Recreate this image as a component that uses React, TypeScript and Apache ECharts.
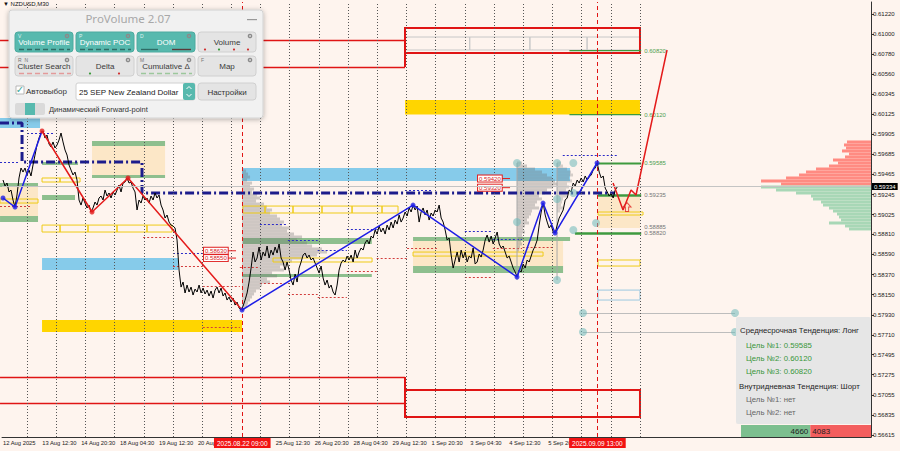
import React, { useEffect, useRef } from "react";
import * as echarts from "echarts";

// x axis: M30 bar index (trading bars), bar 0 = 12 Aug 2025 00:00
const X_MIN = 6.9;
const X_MAX = 1435.9;
const Y_MIN = 0.56593;
const Y_MAX = 0.61351;
const BID = 0.59334;

const PRICE_TICKS = [0.56615, 0.56835, 0.57055, 0.57275, 0.57495, 0.5771, 0.5793, 0.5815, 0.5837, 0.5859, 0.5881, 0.59025, 0.59245, 0.59465, 0.59685, 0.59905, 0.60125, 0.60345, 0.6056, 0.6078, 0.61, 0.6122];
const TIME_LABEL_BARS = [8.5, 73, 137, 201, 265, 329, 457, 521, 585, 649, 713, 777, 841, 905];
const TIME_LABELS = ["12 Aug 2025", "13 Aug 12:30", "14 Aug 20:30", "18 Aug 04:30", "19 Aug 12:30", "20 Aug 20:30", "25 Aug 12:30", "26 Aug 20:30", "28 Aug 04:30", "29 Aug 12:30", "1 Sep 20:30", "3 Sep 04:30", "4 Sep 12:30", "5 Sep 20:30"];
const DAY_BREAK_BARS = [48, 96, 144, 192, 240, 288, 336, 384, 432, 480, 528, 576, 624, 672, 720, 768, 816, 864, 912, 960, 1008, 1056];
const EVENT_BARS = [402, 986];
const EVENT_LABELS = ["2025.08.22 09:00", "2025.09.09 13:00"];

// close prices in points (1e-5), sampled every PRICE_STEP_BARS bars
const PRICE_START_BAR = 8.5;
const PRICE_STEP_BARS = 3.29;
const PRICE_POINTS = [
  59404, 59338, 59371, 59273, 59294, 59185, 59108, 59240, 59426, 59535, 59491, 59535, 59459, 59513, 59448, 59568, 59677, 59787, 59863, 59918,
  59940, 59863, 59896, 59798, 59765, 59820, 59754, 59787, 59841, 59918, 59820, 59732, 59677, 59568, 59513, 59459, 59491, 59404, 59185, 59130,
  59207, 59152, 59098, 59130, 59054, 59098, 59163, 59130, 59207, 59229, 59185, 59294, 59229, 59262, 59207, 59273, 59240, 59294, 59349, 59273,
  59371, 59382, 59426, 59371, 59382, 59316, 59273, 59076, 59185, 59152, 59229, 59185, 59207, 59152, 59229, 59185, 59262, 59207, 59240, 59130,
  59076, 58988, 59021, 58944, 58911, 58901, 58879, 58747, 58419, 58233, 58288, 58168, 58255, 58179, 58233, 58146, 58211, 58179, 58255, 58168,
  58222, 58157, 58200, 58135, 58190, 58113, 58200, 58233, 58168, 58222, 58135, 58168, 58091, 58124, 58069, 58113, 58036, 58069, 58004, 57982,
  58025, 58091, 58168, 58288, 58441, 58616, 58507, 58551, 58671, 58529, 58616, 58572, 58682, 58551, 58638, 58583, 58671, 58605, 58704, 58551,
  58507, 58419, 58507, 58419, 58310, 58255, 58375, 58288, 58441, 58507, 58583, 58605, 58551, 58583, 58529, 58551, 58496, 58441, 58386, 58463,
  58332, 58255, 58310, 58222, 58255, 58179, 58146, 58255, 58419, 58496, 58529, 58507, 58572, 58529, 58583, 58507, 58638, 58551, 58616, 58660,
  58638, 58715, 58747, 58704, 58791, 58769, 58857, 58813, 58901, 58835, 58879, 58813, 58911, 58857, 58944, 58879, 58966, 58922, 59021, 58944,
  58988, 59054, 59010, 59098, 59054, 59130, 59076, 59119, 58944, 59054, 59098, 59021, 59076, 58966, 59043, 59010, 59076, 59054, 59130, 58988,
  58944, 58857, 58747, 58769, 58583, 58441, 58529, 58616, 58507, 58638, 58551, 58616, 58507, 58572, 58551, 58660, 58485, 58507, 58594, 58561,
  58638, 58747, 58802, 58725, 58791, 58704, 58769, 58835, 58704, 58660, 58682, 58616, 58551, 58572, 58507, 58441, 58397, 58343, 58419, 58397,
  58485, 58441, 58529, 58507, 58572, 58638, 58682, 58747, 58911, 59054, 59152, 59021, 58944, 58879, 58911, 58835, 58824, 58911, 58988, 59032,
  59076, 59185, 59207, 59294, 59273, 59371, 59338, 59404, 59371, 59426, 59382, 59448, 59404, 59437, 59459, 59513, 59535, 59590, 59491, 59426,
  59448, 59316, 59273, 59229, 59251, 59207, 59294, 59327,
];

// zigzag vertices
const ZZ_BARS = [8.5, 28.3, 72.7, 154.9, 214.1, 401.6, 682.8, 853.8, 896.6, 916.3, 985.4];
const ZZ_PRICES = [0.59207, 0.59108, 0.5994, 0.59054, 0.59426, 0.57982, 0.5913, 0.58343, 0.59152, 0.58824, 0.5959];
const ZZ_SEGMENT_COLORS = ["blue", "blue", "red", "red", "red", "blue", "blue", "blue", "blue", "blue"];
const FC_BARS = [1011.7, 1028.1, 1041.3, 1049.5, 1100.5];
const FC_PRICES = [0.59371, 0.59076, 0.59294, 0.5924, 0.60826];

// zones: [fromBar, toBar, lowPrice, highPrice]
const BLUE_ZONES = [[3.6, 69.4, 0.59973, 0.60082], [401.6, 941, 0.59393, 0.59535], [72.7, 296.3, 0.58419, 0.58551]];
const YELLOW_ZONES = [[72.7, 401.6, 0.57741, 0.57872], [669.6, 1056, 0.6012, 0.60279]];
const BEIGE_ZONES = [[154.9, 275, 0.59459, 0.59776], [3.6, 66.1, 0.5901, 0.59327], [682.8, 929.5, 0.58463, 0.58737], [987, 1056, 0.58879, 0.59218]];
const GREEN_ZONES = [
  [154.9, 275, 0.59776, 0.5983], [154.9, 275, 0.59426, 0.59459], [72.7, 131.9, 0.59568, 0.59601], [72.7, 126.9, 0.59185, 0.5924],
  [3.6, 66.1, 0.59327, 0.59371], [3.6, 66.1, 0.58944, 0.5901], [403, 615, 0.58704, 0.58769], [401.6, 615, 0.58343, 0.58375],
  [682.8, 941, 0.58737, 0.5878], [682.8, 929.5, 0.58386, 0.58463],
];
const YELLOW_BOXES = [
  [72.7, 102.3, 0.59382, 0.59426], [102.3, 135.2, 0.59382, 0.59426], [3.6, 66.1, 0.59152, 0.59196],
  [72.7, 102.3, 0.58835, 0.58911], [102.3, 148.3, 0.58835, 0.58911], [148.3, 196, 0.58835, 0.58911], [196, 245.3, 0.58835, 0.58911], [245.3, 286.5, 0.58835, 0.58911],
  [403, 439.4, 0.59043, 0.59119], [439.4, 485.4, 0.59043, 0.59119], [485.4, 533.1, 0.59043, 0.59119], [533.1, 582.5, 0.59043, 0.59119], [582.5, 631.8, 0.59043, 0.59119], [631.8, 658.1, 0.59043, 0.59119],
  [452.5, 615.4, 0.58507, 0.58551], [682.8, 896.6, 0.58572, 0.58616], [987, 1061, 0.59021, 0.59054], [987, 1056, 0.58463, 0.58529],
];
const GRAY_BOXES = [[669.6, 776, 0.60826, 0.60968], [776, 875, 0.60826, 0.60968], [875, 969, 0.60826, 0.60968], [969, 1056, 0.60826, 0.60968]];
const BLUE_OUTLINE_BOXES = [[987, 1056, 0.58091, 0.582]];
const RED_LEVEL_LINES = [[3.6, 669.6, 0.60935], [3.6, 669.6, 0.6064], [3.6, 669.6, 0.57249], [3.6, 669.6, 0.56964]];
const RED_BOXES = [[669.6, 1056, 0.60793, 0.61067], [669.6, 1056, 0.56811, 0.57107]];
const RED_CONNECTORS = [[669.6, 0.6064, 0.61067], [669.6, 0.56811, 0.57249]];
const BLUE_DASH_LEVELS = [[48, 94, 0.59918], [669.6, 715.7, 0.59294], [477, 526, 0.58747], [526, 574, 0.58638], [431, 477, 0.58922], [574, 623, 0.58868], [768, 814, 0.58846], [814, 862, 0.58758], [288, 337, 0.58605], [929, 1019, 0.59677], [3.6, 36.5, 0.59601]];
const RED_DASH_LEVELS = [[3.6, 53, 0.59119], [239, 288, 0.5878], [288, 337, 0.58463], [337, 398, 0.58244], [337, 398, 0.57796], [398, 431, 0.58452], [431, 480, 0.58277], [477, 526, 0.58157], [526, 574, 0.58124], [574, 623, 0.58408], [623, 673, 0.58551], [673, 722, 0.5866], [768, 814, 0.58343], [814, 862, 0.5866], [863, 913, 0.58671]];
const POC_BARS = [3.6, 39.8, 39.8, 237.1, 237.1, 1015];
const POC_PRICES = [0.60027, 0.60027, 0.59601, 0.59601, 0.59262, 0.59262];

const TARGET_LINES = [[940, 1058, 0.6082, 1.2], [940, 1058, 0.6012, 1.2], [987, 1058, 0.59585, 2], [987, 1058, 0.59235, 2.5], [949, 1058, 0.5882, 2.5]];
const TARGET_LABEL_PRICES = [0.6082, 0.6012, 0.59585, 0.59235, 0.58885, 0.5882];
const TARGET_LABEL_COLORS = ["#4E9E4E", "#4E9E4E", "#4E9E4E", "#777777", "#777777", "#777777"];
const TARGET_LABEL_BAR = 1063;

const PRICE_TAG_BARS = [339.1, 339.1, 789.7, 789.7];
const PRICE_TAG_PRICES = [0.5863, 0.5855, 0.5942, 0.5932];

const TEAL_DOTS = [[853.8, 0.5959], [919.6, 0.5959], [919.6, 0.59196], [853.8, 0.58944], [919.6, 0.5831], [946.4, 0.5959], [946.4, 0.59262], [983.7, 0.58933], [946.4, 0.58857], [962.3, 0.57949], [1212.3, 0.57949], [962.3, 0.57741], [1212.3, 0.57741]];
const GRAY_HLINES = [[962.3, 1212.3, 0.57949], [962.3, 1212.3, 0.57741]];
const GRAY_VLINES = [[853.8, 0.5831, 0.5959], [919.6, 0.5831, 0.5959]];
const ARROW_MARK = [[1034.7, 0.59108]];

// volume profiles (lots per 0.000328 price bin)
const PROFILE_STEP = 0.000328;
const LOT_BARS = 0.548;
const PROFILE_A_BAR = 401.6;
const PROFILE_A_TOP = 0.59502;
const PROFILE_A_VOLUMES = [12, 18, 24, 15, 30, 24, 36, 30, 45, 54, 42, 66, 75, 90, 84, 105, 114, 126, 120, 144, 135, 156, 180, 165, 195, 210, 240, 255, 225, 180, 150, 135, 114, 126, 90, 105, 75, 84, 60, 54, 42, 36, 30, 24, 18, 15];
const PROFILE_B_BAR = 853.8;
const PROFILE_B_TOP = 0.5959;
const PROFILE_B_VOLUMES = [15, 30, 54, 75, 90, 105, 114, 120, 108, 90, 84, 66, 75, 60, 54, 66, 45, 42, 36, 30, 36, 24, 18, 24, 15, 18, 12, 15, 9, 6];
const PROFILE_C_BAR = 919.6;
const PROFILE_C_TOP = 0.5959;
const PROFILE_C_VOLUMES = [12, 18, 30, 42, 48, 36, 45, 30, 36, 27, 24, 30, 18, 15, 12, 18, 9];
const PROFILE_R_TOP = 0.5982;
const PROFILE_R_VOLUMES = [72, 81, 75, 87, 66, 78, 114, 99, 126, 165, 195, 216, 255, 330, 270, 330, 285, 225, 180, 174, 150, 144, 126, 114, 102, 96, 90, 126, 78, 66];
const TOTALS = [4660, 4083];
const TOTAL_COLORS = ["#7CBF8F", "#F35E5E"];
const TOTAL_BARS_PER_LOT = 0.02445;
const TOTAL_TOP = 0.56724;

// texts
const CHART_TITLE = "NZDUSD,M30";
const PANEL_TITLE = "ProVolume 2.07";
const BUTTON_LABELS = ["Volume Profile", "Dynamic POC", "DOM", "Volume", "Cluster Search", "Delta", "Cumulative Δ", "Map"];
const BUTTON_ACTIVE = [true, true, true, false, false, false, false, false];
const BUTTON_KEYS = ["V", "P", "D", "", "R  N", "", "M", "F"];
const AUTO_TEXT = "Автовыбор";
const SYMBOL_TEXT = "25 SEP New Zealand Dollar";
const SETTINGS_TEXT = "Настройки";
const FORWARD_TEXT = "Динамический Forward-point";
const TREND_MID = "Среднесрочная Тенденция: Лонг";
const TREND_INTRADAY = "Внутридневная Тенденция: Шорт";
const MID_TARGETS = ["0.59585", "0.60120", "0.60820"];
const INTRADAY_TARGETS = ["нет", "нет"];

const AXIS_FONT = "'Liberation Sans', Arial, sans-serif";
const UI_FONT = "'Liberation Sans', Arial, sans-serif";

const rectItem = (fill: any, stroke: any = null, lw = 1) => (params: any, api: any) => {
  const a = api.coord([api.value(0), api.value(3)]);
  const b = api.coord([api.value(1), api.value(2)]);
  return { type: "rect", shape: { x: a[0], y: a[1], width: b[0] - a[0], height: b[1] - a[1] }, style: { fill, stroke, lineWidth: lw } };
};
const hLineItem = (stroke: string, lw: number, dash: any) => (params: any, api: any) => {
  const a = api.coord([api.value(0), api.value(2)]);
  const b = api.coord([api.value(1), api.value(2)]);
  const y = Math.round(a[1]) + 0.5;
  return { type: "line", shape: { x1: a[0], y1: y, x2: b[0], y2: y }, style: { stroke, lineWidth: lw, lineDash: dash } };
};
const vLineItem = (stroke: string, lw: number) => (params: any, api: any) => {
  const a = api.coord([api.value(0), api.value(1)]);
  const b = api.coord([api.value(0), api.value(2)]);
  return { type: "line", shape: { x1: a[0], y1: a[1], x2: b[0], y2: b[1] }, style: { stroke, lineWidth: lw } };
};
const profileItem = (base: number, dir: number, colorFn: (p: number) => string) => (params: any, api: any) => {
  const p = api.value(0);
  const v = api.value(1);
  const a = api.coord([base, p + PROFILE_STEP / 2]);
  const b = api.coord([base + dir * v * LOT_BARS, p - PROFILE_STEP / 2]);
  return { type: "rect", shape: { x: Math.min(a[0], b[0]), y: a[1], width: Math.abs(b[0] - a[0]), height: b[1] - a[1] }, style: { fill: colorFn(p) } };
};
const profileData = (top: number, vols: number[]) => vols.map((v, i) => [top - i * PROFILE_STEP, v]);

function custom(name: string, data: any[], renderItem: any, z = 2) {
  return { type: "custom", name, data, renderItem, z, silent: true };
}

function buildPanel(): any[] {
  const Z = 100;
  const els: any[] = [];
  els.push({ type: "text", z: Z, x: 3, y: 1, style: { text: "▼ " + CHART_TITLE, fill: "#111", font: `6px ${AXIS_FONT}` } });
  els.push({ type: "rect", z: Z, shape: { x: 9, y: 10, width: 254, height: 108, r: 3 }, style: { fill: "#F1F1F1", stroke: "#D2D2D2", lineWidth: 1, shadowBlur: 5, shadowColor: "rgba(0,0,0,0.3)", shadowOffsetY: 1 } });
  els.push({ type: "text", z: Z + 1, x: 128, y: 18, style: { text: PANEL_TITLE, fill: "#A8A8A8", font: "11.5px 'Noto Sans', sans-serif", align: "center", verticalAlign: "middle" } });
  els.push({ type: "rect", z: Z + 1, shape: { x: 247, y: 19, width: 10, height: 1.2 }, style: { fill: "#999" } });
  const xs = [15, 76, 137, 198];
  BUTTON_LABELS.forEach((label, i) => {
    const x = xs[i % 4];
    const y = i < 4 ? 32 : 56;
    const w = 58;
    const h = 20;
    const active = BUTTON_ACTIVE[i];
    els.push({ type: "rect", z: Z + 1, shape: { x, y, width: w, height: h, r: 3 }, style: { fill: active ? "#57B9AE" : "#E4E4E4", stroke: active ? "#4CAA9F" : "#D0D0D0", lineWidth: 1 } });
    els.push({ type: "text", z: Z + 2, x: x + w / 2, y: y + h / 2 + 0.5, style: { text: label, fill: active ? "#FFFFFF" : "#3A3A3A", font: `8px ${UI_FONT}`, align: "center", verticalAlign: "middle" } });
    els.push({ type: "circle", z: Z + 2, shape: { cx: x + w - 6, cy: y + 4, r: 2.3 }, style: { fill: "#8A8A8A" } });
    els.push({ type: "circle", z: Z + 3, shape: { cx: x + w - 6, cy: y + 4, r: 0.8 }, style: { fill: active ? "#57B9AE" : "#E4E4E4" } });
    if (BUTTON_KEYS[i]) {
      els.push({ type: "text", z: Z + 2, x: x + 3, y: y + 1, style: { text: BUTTON_KEYS[i], fill: active ? "#DFF3F0" : "#777", font: `5px ${UI_FONT}` } });
    }
  });
  const dash = (x1: number, x2: number, y: number, c: string, d: any = [5, 3], lw = 1.4) =>
    els.push({ type: "line", z: Z + 2, shape: { x1, y1: y, x2, y2: y }, style: { stroke: c, lineWidth: lw, lineDash: d } });
  dash(19, 70, 49.5, "#2F6C66");
  dash(80, 131, 49.5, "#2F6C66");
  dash(141, 158, 49.5, "#2F6C66", null);
  dash(172, 191, 49.5, "#5A3A3A", null);
  [205, 219, 234, 248].forEach((cx, k) => els.push({ type: "circle", z: Z + 2, shape: { cx, cy: 49.5, r: 1.1 }, style: { fill: k === 1 ? "#3A9A3A" : "#D03030" } }));
  dash(19, 71, 73.5, "#E39A9A");
  els.push({ type: "circle", z: Z + 2, shape: { cx: 90, cy: 73.5, r: 1.1 }, style: { fill: "#3A9A3A" } });
  els.push({ type: "circle", z: Z + 2, shape: { cx: 119, cy: 73.5, r: 1.1 }, style: { fill: "#D03030" } });
  dash(141, 192, 73.5, "#9CC79C");
  els.push({ type: "rect", z: Z + 1, shape: { x: 16, y: 86, width: 8, height: 8 }, style: { fill: "#FFFFFF", stroke: "#AAAAAA", lineWidth: 0.8 } });
  els.push({ type: "text", z: Z + 2, x: 20, y: 89, style: { text: "✓", fill: "#3AA89C", font: `10px 'DejaVu Sans', sans-serif`, align: "center", verticalAlign: "middle" } });
  els.push({ type: "text", z: Z + 2, x: 26, y: 91, style: { text: AUTO_TEXT, fill: "#333", font: `8px ${UI_FONT}`, verticalAlign: "middle" } });
  els.push({ type: "rect", z: Z + 1, shape: { x: 76, y: 83, width: 119, height: 17, r: 2 }, style: { fill: "#FFFFFF", stroke: "#D0D0D0", lineWidth: 1 } });
  els.push({ type: "text", z: Z + 2, x: 79, y: 92, style: { text: SYMBOL_TEXT, fill: "#222", font: `8px ${UI_FONT}`, verticalAlign: "middle" } });
  els.push({ type: "rect", z: Z + 2, shape: { x: 183, y: 83, width: 12, height: 17, r: 2 }, style: { fill: "#57B9AE" } });
  els.push({ type: "polyline", z: Z + 3, shape: { points: [[186.5, 89], [189, 86.5], [191.5, 89]] }, style: { stroke: "#fff", lineWidth: 1, fill: null } });
  els.push({ type: "polyline", z: Z + 3, shape: { points: [[186.5, 94], [189, 96.5], [191.5, 94]] }, style: { stroke: "#fff", lineWidth: 1, fill: null } });
  els.push({ type: "rect", z: Z + 1, shape: { x: 198, y: 83, width: 58, height: 17, r: 3 }, style: { fill: "#E4E4E4", stroke: "#D0D0D0", lineWidth: 1 } });
  els.push({ type: "text", z: Z + 2, x: 227, y: 92, style: { text: SETTINGS_TEXT, fill: "#333", font: `8px ${UI_FONT}`, align: "center", verticalAlign: "middle" } });
  els.push({ type: "rect", z: Z + 1, shape: { x: 15, y: 103, width: 30, height: 12, r: 2 }, style: { fill: "#DADADA" } });
  els.push({ type: "rect", z: Z + 2, shape: { x: 25, y: 103, width: 10, height: 12 }, style: { fill: "#57B9AE" } });
  els.push({ type: "text", z: Z + 2, x: 49, y: 109.5, style: { text: FORWARD_TEXT, fill: "#333", font: `7.5px ${UI_FONT}`, verticalAlign: "middle" } });

  els.push({ type: "rect", z: Z, shape: { x: 736, y: 317, width: 135, height: 107, r: 2 }, style: { fill: "rgba(229,229,229,0.96)" } });
  const lines: [string, number, number, string][] = [
    [TREND_MID, 740, 330, "#1E1E1E"],
    [`Цель №1: ${MID_TARGETS[0]}`, 746, 345, "#3A963A"],
    [`Цель №2: ${MID_TARGETS[1]}`, 746, 358, "#3A963A"],
    [`Цель №3: ${MID_TARGETS[2]}`, 746, 371, "#3A963A"],
    [TREND_INTRADAY, 739, 386, "#1E1E1E"],
    [`Цель №1: ${INTRADAY_TARGETS[0]}`, 746, 399, "#666666"],
    [`Цель №2: ${INTRADAY_TARGETS[1]}`, 746, 412, "#666666"],
  ];
  lines.forEach(([t, x, y, c]) => els.push({ type: "text", z: Z + 1, x, y, style: { text: t, fill: c, font: `7.8px ${UI_FONT}`, verticalAlign: "middle" } }));
  return els;
}

function buildZigzag(): any[] {
  const out: any[] = [];
  let run: any[] = [[ZZ_BARS[0], ZZ_PRICES[0]]];
  let color = ZZ_SEGMENT_COLORS[0];
  const flush = () => out.push({ type: "line", data: run, showSymbol: false, z: 6, silent: true, lineStyle: { color: color === "blue" ? "#1E1EE6" : "#E41B1B", width: 1.5 } });
  for (let i = 0; i < ZZ_SEGMENT_COLORS.length; i++) {
    if (ZZ_SEGMENT_COLORS[i] !== color) {
      flush();
      run = [[ZZ_BARS[i], ZZ_PRICES[i]]];
      color = ZZ_SEGMENT_COLORS[i];
    }
    run.push([ZZ_BARS[i + 1], ZZ_PRICES[i + 1]]);
  }
  flush();
  out.push({
    type: "scatter", z: 7, silent: true, symbolSize: 5,
    data: ZZ_BARS.map((b, i) => {
      const c = ZZ_SEGMENT_COLORS[Math.min(i, ZZ_SEGMENT_COLORS.length - 1)];
      return { value: [b, ZZ_PRICES[i]], itemStyle: { color: c === "blue" ? "#1E1EE6" : "#E41B1B" } };
    }),
  });
  return out;
}

export default function App() {
  const ref = useRef<HTMLDivElement>(null);
  useEffect(() => {
    if (!ref.current) return;
    const chart = echarts.init(ref.current, null, { renderer: "svg" });
    const priceData = PRICE_POINTS.map((p, i) => [PRICE_START_BAR + i * PRICE_STEP_BARS, p / 1e5]);
    const nearestLabel = (v: number) => {
      let best = 0;
      TIME_LABEL_BARS.forEach((b, i) => { if (Math.abs(b - v) < Math.abs(TIME_LABEL_BARS[best] - v)) best = i; });
      return TIME_LABELS[best];
    };

    const series: any[] = [
      custom("beige", BEIGE_ZONES, rectItem("rgba(251,228,192,0.85)"), 1),
      custom("blueZones", BLUE_ZONES, rectItem("#86CBEA"), 1),
      custom("yellowZones", YELLOW_ZONES, rectItem("#FFD500"), 1),
      custom("greenZones", GREEN_ZONES, rectItem("#8EBF8E"), 1),
      custom("profileA", profileData(PROFILE_A_TOP, PROFILE_A_VOLUMES), profileItem(PROFILE_A_BAR, 1, () => "rgba(110,110,110,0.33)"), 2),
      custom("profileB", profileData(PROFILE_B_TOP, PROFILE_B_VOLUMES), profileItem(PROFILE_B_BAR, 1, () => "rgba(110,110,110,0.33)"), 2),
      custom("profileC", profileData(PROFILE_C_TOP, PROFILE_C_VOLUMES), profileItem(PROFILE_C_BAR, 1, () => "rgba(110,110,110,0.28)"), 2),
      custom("profileR", profileData(PROFILE_R_TOP, PROFILE_R_VOLUMES), profileItem(X_MAX, -1, (p) => (p > BID ? "#FF8B82" : "#A8D7B6")), 2),
      custom("grayBoxes", GRAY_BOXES, rectItem("none", "#C8C8C8", 1), 3),
      custom("yellowBoxes", YELLOW_BOXES, rectItem("none", "#EFCB16", 1), 3),
      custom("blueBoxes", BLUE_OUTLINE_BOXES, rectItem("none", "#9CC8E0", 1), 3),
      custom("redLevels", RED_LEVEL_LINES, hLineItem("#E01414", 1.5, null), 3),
      custom("redBoxes", RED_BOXES, rectItem("none", "#E01414", 2), 3),
      custom("redConn", RED_CONNECTORS, vLineItem("#E01414", 2), 3),
      custom("blueDash", BLUE_DASH_LEVELS, hLineItem("#2B2BC8", 1, [2, 2]), 3),
      custom("redDash", RED_DASH_LEVELS, hLineItem("#D23C3C", 1, [2, 2]), 3),
      custom("grayH", GRAY_HLINES, hLineItem("#BDBDBD", 1, null), 3),
      custom("grayV", GRAY_VLINES, vLineItem("#A8A8A8", 1), 3),
      custom("bid", [[X_MIN, X_MAX, BID]], (params: any, api: any) => {
        const a = api.coord([api.value(0), api.value(2)]);
        const b = api.coord([api.value(1), api.value(2)]);
        const y = Math.round(a[1]) + 0.5;
        return {
          type: "group",
          children: [
            { type: "line", shape: { x1: a[0], y1: y, x2: b[0], y2: y }, style: { stroke: "#C4C4C4", lineWidth: 1 } },
            { type: "text", x: b[0] + 1, y, style: { text: BID.toFixed(5), fill: "#FFFFFF", backgroundColor: "#000000", padding: [1, 2, 0, 2], font: `6px ${AXIS_FONT}`, verticalAlign: "middle" } },
          ],
        };
      }, 8),
      {
        type: "line", name: "poc", z: 4, silent: true, showSymbol: false,
        data: POC_BARS.map((b, i) => [b, POC_PRICES[i]]),
        lineStyle: { color: "#1C1C8C", width: 3, type: [9, 3, 2, 3] },
      },
      custom("targets", TARGET_LINES, (params: any, api: any) => {
        const a = api.coord([api.value(0), api.value(2)]);
        const b = api.coord([api.value(1), api.value(2)]);
        return { type: "line", shape: { x1: a[0], y1: a[1], x2: b[0], y2: b[1] }, style: { stroke: "#3E9A3E", lineWidth: api.value(3) } };
      }, 4),
      custom("targetLabels", TARGET_LABEL_PRICES.map((p) => [TARGET_LABEL_BAR, p]), (params: any, api: any) => {
        const a = api.coord([api.value(0), api.value(1)]);
        return { type: "text", x: a[0], y: a[1], style: { text: TARGET_LABEL_PRICES[params.dataIndex].toFixed(5), fill: TARGET_LABEL_COLORS[params.dataIndex], font: `6px ${AXIS_FONT}`, verticalAlign: "middle" } };
      }, 4),
      {
        type: "line", name: "price", z: 5, silent: true, showSymbol: false, data: priceData,
        lineStyle: { color: "#000000", width: 1 },
        markLine: {
          silent: true, symbol: ["none", "none"], animation: false,
          data: [
            ...DAY_BREAK_BARS.map((b) => ({ xAxis: b, lineStyle: { color: "#555", type: [1, 2], width: 1 }, label: { show: false } })),
            ...EVENT_BARS.map((b, i) => ({
              xAxis: b, lineStyle: { color: "#E01414", type: [4, 3], width: 1 },
              label: { show: true, position: "start", formatter: EVENT_LABELS[i], backgroundColor: "#F21212", color: "#FFFFFF", fontSize: 6.5, fontFamily: AXIS_FONT, padding: [2, 3, 1, 3], distance: 1 },
            })),
          ],
        },
      },
      ...buildZigzag(),
      {
        type: "line", name: "forecast", z: 6, silent: true, showSymbol: false,
        data: FC_BARS.map((b, i) => [b, FC_PRICES[i]]),
        lineStyle: { color: "#E41B1B", width: 1.5 },
      },
      {
        type: "scatter", name: "teal", z: 6, silent: true, symbolSize: 8, data: TEAL_DOTS,
        itemStyle: { color: "rgba(110,185,185,0.7)" },
      },
      {
        type: "scatter", name: "arrow", z: 6, silent: true, data: ARROW_MARK,
        symbol: "path://M5 0 L10 5 L7 5 L7 10 L3 10 L3 5 L0 5 Z", symbolSize: [8, 9],
        itemStyle: { color: "rgba(0,0,0,0)", borderColor: "#E02020", borderWidth: 1 },
      },
      custom("tags", PRICE_TAG_BARS.map((b, i) => [b, PRICE_TAG_PRICES[i]]), (params: any, api: any) => {
        const a = api.coord([api.value(0), api.value(1)]);
        return {
          type: "group",
          children: [
            { type: "line", shape: { x1: a[0] + 24, y1: a[1], x2: a[0] + 32, y2: a[1] }, style: { stroke: "#E02020", lineWidth: 1 } },
            { type: "text", x: a[0], y: a[1], style: { text: PRICE_TAG_PRICES[params.dataIndex].toFixed(5), fill: "#D81818", font: `6px ${AXIS_FONT}`, verticalAlign: "middle", backgroundColor: "#FFFFFF", borderColor: "#E02020", borderWidth: 1, padding: [0, 1] } },
          ],
        };
      }, 7),
      custom("totals", TOTALS.map((t) => [t]), (params: any, api: any) => {
        const i = params.dataIndex;
        const sell = TOTALS[1] * TOTAL_BARS_PER_LOT;
        const all = (TOTALS[0] + TOTALS[1]) * TOTAL_BARS_PER_LOT;
        const x0b = i === 0 ? X_MAX - all : X_MAX - sell;
        const x1b = i === 0 ? X_MAX - sell : X_MAX;
        const a = api.coord([x0b, TOTAL_TOP]);
        const b = api.coord([x1b, Y_MIN]);
        return {
          type: "group",
          children: [
            { type: "rect", shape: { x: a[0], y: a[1], width: b[0] - a[0], height: b[1] - a[1] }, style: { fill: TOTAL_COLORS[i] } },
            { type: "text", x: i === 0 ? b[0] - 2 : a[0] + 2, y: (a[1] + b[1]) / 2, style: { text: String(TOTALS[i]), fill: "#222", font: `8px ${UI_FONT}`, align: i === 0 ? "right" : "left", verticalAlign: "middle" } },
          ],
        };
      }, 7),
    ];

    chart.setOption({
      animation: false,
      backgroundColor: "#FEF4EE",
      grid: { left: 2, right: 29, top: 2, bottom: 14, containLabel: false },
      xAxis: {
        type: "value", min: X_MIN, max: X_MAX,
        axisLine: { show: true, onZero: false, lineStyle: { color: "#333", width: 1 } },
        axisTick: { show: false },
        axisLabel: { customValues: TIME_LABEL_BARS, formatter: (v: number) => nearestLabel(v), align: "left", fontSize: 5.8, color: "#222", margin: 3, fontFamily: AXIS_FONT, hideOverlap: false },
        splitLine: { show: false },
      },
      yAxis: {
        type: "value", position: "right", min: Y_MIN, max: Y_MAX,
        axisLine: { show: true, lineStyle: { color: "#333", width: 1 } },
        axisTick: { show: true, customValues: PRICE_TICKS, length: 3, lineStyle: { color: "#333" } },
        axisLabel: { customValues: PRICE_TICKS, formatter: (v: number) => v.toFixed(5), fontSize: 6, color: "#222", margin: 2, fontFamily: AXIS_FONT },
        splitLine: { show: false },
      },
      series,
      graphic: { elements: buildPanel() },
    });
    return () => chart.dispose();
  }, []);
  return <div ref={ref} style={{ position: "absolute", left: 0, top: 0, width: 900, height: 451 }} />;
}
